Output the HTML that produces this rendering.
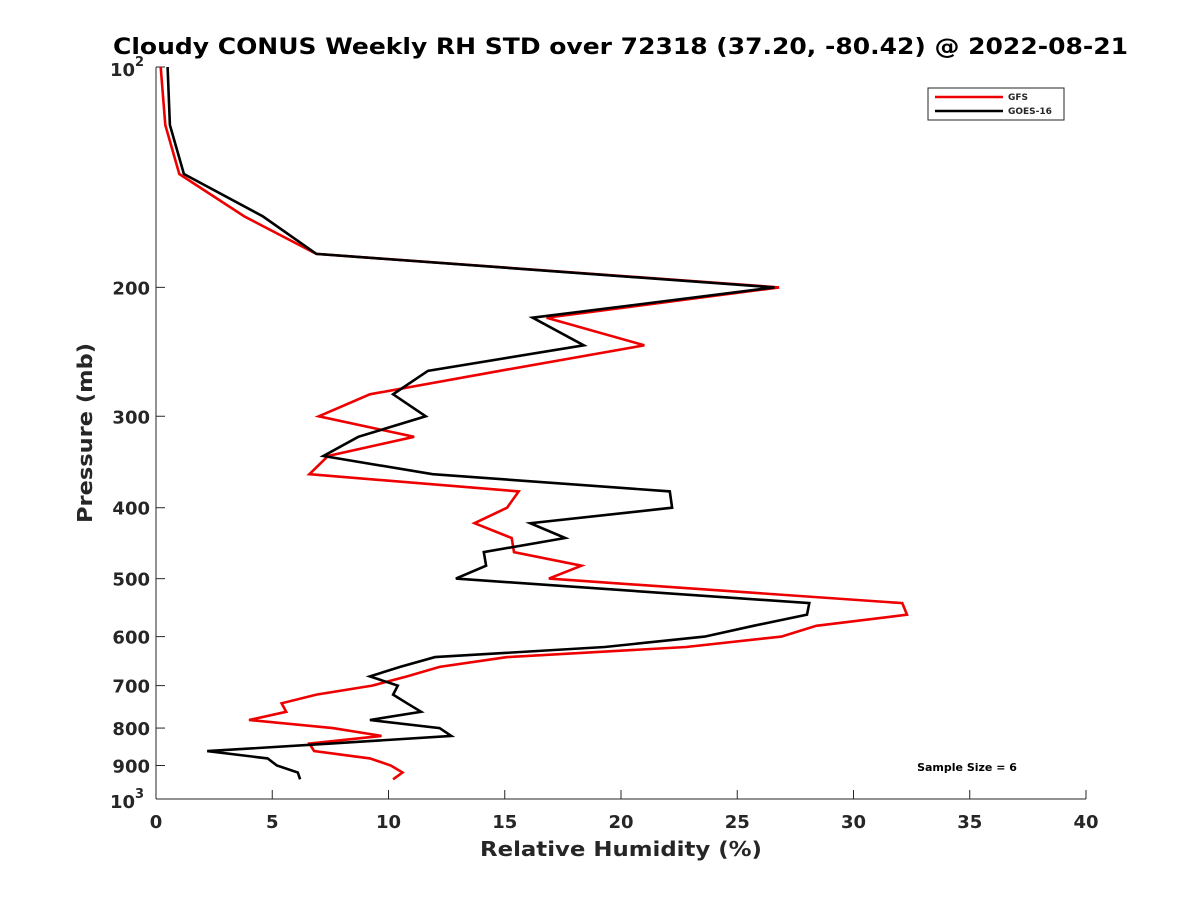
<!DOCTYPE html>
<html><head><meta charset="utf-8"><style>
body{margin:0;background:#fff;}
svg text{font-family:"DejaVu Sans","Liberation Sans",sans-serif;font-weight:bold;fill:#262626;}
</style></head><body>
<svg id="chart" width="1200" height="900" xmlns="http://www.w3.org/2000/svg">
<rect width="1200" height="900" fill="#fff"/>
<text x="113" y="54" font-size="22" textLength="1015" lengthAdjust="spacingAndGlyphs" style="fill:#000">Cloudy CONUS Weekly RH STD over 72318 (37.20, -80.42) @ 2022-08-21</text>
<g id="axes"></g>
<g id="series"></g>
<text x="480" y="856" font-size="20" textLength="282" lengthAdjust="spacingAndGlyphs">Relative Humidity (%)</text>
<text transform="translate(92,523) rotate(-90)" font-size="20" textLength="180" lengthAdjust="spacingAndGlyphs">Pressure (mb)</text>
<g>
<rect x="928" y="88" width="136" height="32" fill="#fff" stroke="#262626" stroke-width="1"/>
<line x1="935" y1="97" x2="1003" y2="97" stroke="#e00" stroke-width="2.5"/>
<text x="1008" y="100" font-size="9">GFS</text>
<line x1="935" y1="111" x2="1003" y2="111" stroke="#000" stroke-width="2.5"/>
<text x="1008" y="114" font-size="9">GOES-16</text>
</g>
<text x="967" y="771" font-size="11" text-anchor="middle" style="fill:#000">Sample Size = 6</text>
</svg>
<script>
const pressureLevels=[100,120,140,160,180,200,220,240,260,280,300,320,340,360,380,400,420,440,460,480,500,540,560,580,600,620,640,660,680,700,720,740,760,780,800,820,840,860,880,900,920,940];
const gfsValues=[0.2,0.4,1.0,3.8,6.9,26.8,16.8,21.0,14.8,9.2,7.0,11.1,7.4,6.6,15.6,15.1,13.7,15.3,15.4,18.3,16.9,32.1,32.3,28.4,26.9,22.8,15.1,12.2,10.8,9.3,6.9,5.4,5.6,4.0,7.6,9.7,6.6,6.8,9.2,10.1,10.6,10.2];
const goesValues=[0.5,0.6,1.2,4.6,6.9,26.6,16.2,18.4,11.7,10.2,11.6,8.7,7.2,11.9,22.1,22.2,16.1,17.6,14.1,14.2,12.9,28.1,28.0,25.7,23.6,19.3,12.0,10.5,9.2,10.4,10.2,10.8,11.4,9.2,12.2,12.7,7.5,2.2,4.8,5.2,6.1,6.2];
const xTicks=[0,5,10,15,20,25,30,35,40];
const yTicks=[200,300,400,500,600,700,800,900];
const NS="http://www.w3.org/2000/svg";
const X0=156,X1=1086,Y0=67,Y1=799;
function xs(v){return X0+(v/40)*(X1-X0);}
function ys(p){return Y0+(Math.log10(p)-2)*(Y1-Y0);}
function mk(tag,attrs,parent){const e=document.createElementNS(NS,tag);for(const k in attrs)e.setAttribute(k,attrs[k]);parent.appendChild(e);return e;}
const ax=document.getElementById('axes');
let l=mk('line',{x1:X0,y1:Y0,x2:X0,y2:Y1,stroke:'#262626','stroke-width':1},ax);


l=mk('line',{x1:X0,y1:Y1,x2:X1,y2:Y1,stroke:'#262626','stroke-width':1},ax);


xTicks.forEach(v=>{
  mk('line',{x1:xs(v),y1:Y1,x2:xs(v),y2:Y1-9,stroke:'#262626'},ax);
  const t=mk('text',{x:xs(v),y:Y1+29,'font-size':18,'text-anchor':'middle'},ax);
  t.textContent=v;
  
  
});
yTicks.forEach(p=>{
  mk('line',{x1:X0,y1:ys(p),x2:X0+9,y2:ys(p),stroke:'#262626'},ax);
  const t=mk('text',{x:X0-6,y:ys(p)+7,'font-size':18,'text-anchor':'end'},ax);
  t.textContent=p;
  
  
});
[[100,'2'],[1000,'3']].forEach(([p,e])=>{
  mk('line',{x1:X0,y1:ys(p),x2:X0+9,y2:ys(p),stroke:'#262626'},ax);
  const t=mk('text',{x:X0-21,y:ys(p)+9,'font-size':18,'text-anchor':'end'},ax);
  t.textContent='10';
  
  
  const s=mk('text',{x:X0-21,y:ys(p)-1,'font-size':13},ax);
  s.textContent=e;
  
  
});
const sg=document.getElementById('series');
function draw(vals,color,name){
  const pts=vals.map((v,i)=>xs(v).toFixed(1)+','+ys(pressureLevels[i]).toFixed(1)).join(' ');
  const pl=mk('polyline',{points:pts,fill:'none',stroke:color,'stroke-width':2.6,'stroke-linejoin':'miter'},sg);
  
  
}
draw(gfsValues,'#e00','gfs-line');
draw(goesValues,'#000','goes16-line');
</script>
</body></html>
